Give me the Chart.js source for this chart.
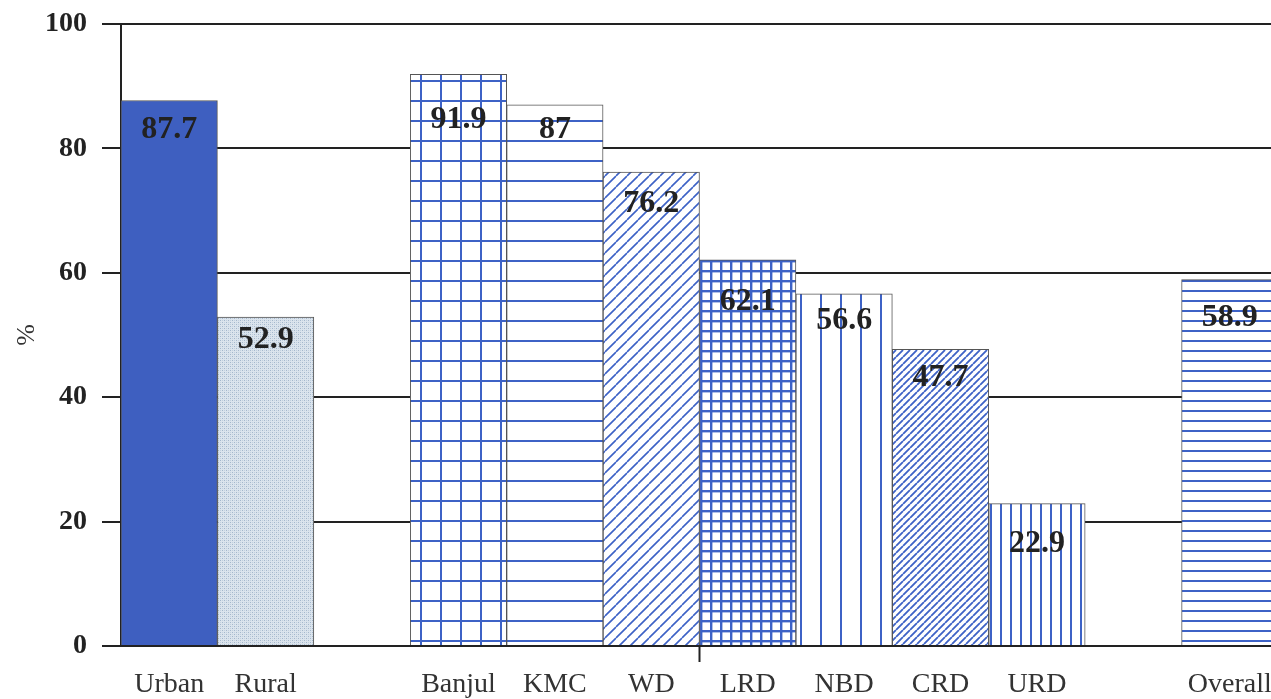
<!DOCTYPE html>
<html>
<head>
<meta charset="utf-8">
<script src="https://cdn.jsdelivr.net/npm/chart.js@4.4.1/dist/chart.umd.min.js"></script>
<style>
  html, body { margin: 0; padding: 0; background: #fff; overflow: hidden; }
  #wrap { width: 1278px; height: 699px; }
</style>
</head>
<body>
<div id="wrap"><canvas id="c" width="1278" height="699"></canvas></div>
<script>
// Categories (empty strings are spacer slots between groups)
const categories = ['Urban', 'Rural', '', 'Banjul', 'KMC', 'WD', 'LRD', 'NBD', 'CRD', 'URD', '', 'Overall'];
// Percentage values per category
const values = [87.7, 52.9, null, 91.9, 87, 76.2, 62.1, 56.6, 47.7, 22.9, null, 58.9];
// Value label texts
const valueLabels = ['87.7', '52.9', '', '91.9', '87', '76.2', '62.1', '56.6', '47.7', '22.9', '', '58.9'];
// Y axis ticks
const yTicks = [0, 20, 40, 60, 80, 100];

const BLUE = '#3d62c6';
const SERIF = '"Liberation Serif", "Times New Roman", serif';

function tile(size, draw) {
  const c = document.createElement('canvas');
  c.width = size; c.height = size;
  const g = c.getContext('2d');
  g.fillStyle = '#ffffff';
  g.fillRect(0, 0, size, size);
  draw(g, size);
  return document.getElementById('c').getContext('2d').createPattern(c, 'repeat');
}
function hLines(spacing, w) {
  return tile(spacing, (g, s) => { g.fillStyle = BLUE; g.fillRect(0, 0, s, w); });
}
function vLines(spacing, w) {
  return tile(spacing, (g, s) => { g.fillStyle = BLUE; g.fillRect(0, 0, w, s); });
}
function grid(spacing, w) {
  return tile(spacing, (g, s) => { g.fillStyle = BLUE; g.fillRect(0, 0, s, w); g.fillRect(0, 0, w, s); });
}
function diag(spacing, w) {
  return tile(spacing, (g, s) => {
    g.strokeStyle = BLUE; g.lineWidth = w;
    g.beginPath();
    for (let k = -1; k <= 1; k++) { g.moveTo(k * s, s); g.lineTo(k * s + s, 0); }
    g.stroke();
  });
}
function stipple() {
  const c = document.createElement('canvas');
  c.width = 4; c.height = 4;
  const g = c.getContext('2d');
  g.fillStyle = '#dbe4ed'; g.fillRect(0, 0, 4, 4);
  g.fillStyle = '#a4b7cc';
  g.fillRect(0, 0, 1, 1); g.fillRect(2, 2, 1, 1);
  g.fillStyle = '#c2d0de';
  g.fillRect(2, 0, 1, 1); g.fillRect(0, 2, 1, 1);
  return document.getElementById('c').getContext('2d').createPattern(c, 'repeat');
}

const fills = [
  '#3e5fc0',        // Urban
  stipple(),        // Rural
  '#ffffff',
  grid(20, 2),      // Banjul
  hLines(20, 2),    // KMC
  diag(11, 1.6),    // WD
  grid(10, 2.4),    // LRD
  vLines(20, 2),    // NBD
  diag(7, 1.8),     // CRD
  vLines(10.5, 2),  // URD
  '#ffffff',
  hLines(10, 2)     // Overall
];

// Vertical distance from bar top to the centre of its value label
const labelDrop = [29, 23, 0, 45, 25, 32, 42, 27, 28, 40, 0, 38];

const valueLabelPlugin = {
  id: 'valueLabels',
  afterDatasetsDraw(chart) {
    const ctx = chart.ctx;
    const meta = chart.getDatasetMeta(0);
    ctx.save();
    ctx.font = 'bold 32px ' + SERIF;
    ctx.fillStyle = '#222';
    ctx.textAlign = 'center';
    ctx.textBaseline = 'middle';
    meta.data.forEach((bar, i) => {
      if (values[i] == null) return;
      ctx.fillText(valueLabels[i], bar.x, bar.y + labelDrop[i]);
    });
    ctx.restore();
  }
};

// Short tick below the axis between the WD and LRD slots
const groupTickPlugin = {
  id: 'groupTick',
  afterDraw(chart) {
    const x = chart.scales.x;
    const px = (x.getPixelForValue(5) + x.getPixelForValue(6)) / 2;
    const ctx = chart.ctx;
    ctx.save();
    ctx.strokeStyle = '#222';
    ctx.lineWidth = 2;
    ctx.beginPath();
    ctx.moveTo(px, chart.chartArea.bottom);
    ctx.lineTo(px, chart.chartArea.bottom + 16);
    ctx.stroke();
    ctx.restore();
  }
};

new Chart(document.getElementById('c'), {
  type: 'bar',
  data: {
    labels: categories,
    datasets: [{
      data: values,
      backgroundColor: fills,
      borderColor: '#555',
      borderWidth: 1,
      barPercentage: 1,
      categoryPercentage: 1
    }]
  },
  options: {
    responsive: false,
    animation: false,
    layout: { padding: { top: 24, right: 0, left: 0, bottom: 0 } },
    plugins: { legend: { display: false }, tooltip: { enabled: false } },
    scales: {
      x: {
        grid: { display: false },
        border: { display: false },
        ticks: {
          color: '#333',
          font: { family: SERIF, size: 28 },
          padding: 14,
          maxRotation: 0,
          autoSkip: false
        },
        afterFit(scale) {
          scale.height = 53;
          scale.paddingLeft = 0;
          scale.paddingRight = 0;
        }
      },
      y: {
        min: 0,
        max: 100,
        z: 1,
        afterBuildTicks(scale) { scale.ticks = yTicks.map(v => ({ value: v })); },
        grid: { color: '#222', lineWidth: 2, tickLength: 19, drawTicks: true },
        border: { color: '#222', width: 2 },
        ticks: {
          color: '#222',
          font: { family: SERIF, size: 28, weight: 'bold' },
          padding: 15
        },
        title: {
          display: true,
          text: '%',
          color: '#333',
          font: { family: SERIF, size: 26 },
          padding: { top: 12, bottom: 0 }
        },
        afterFit(scale) {
          scale.width = 121;
          scale.paddingTop = 0;
          scale.paddingBottom = 0;
        }
      }
    }
  },
  plugins: [valueLabelPlugin, groupTickPlugin]
});
</script>
</body>
</html>
